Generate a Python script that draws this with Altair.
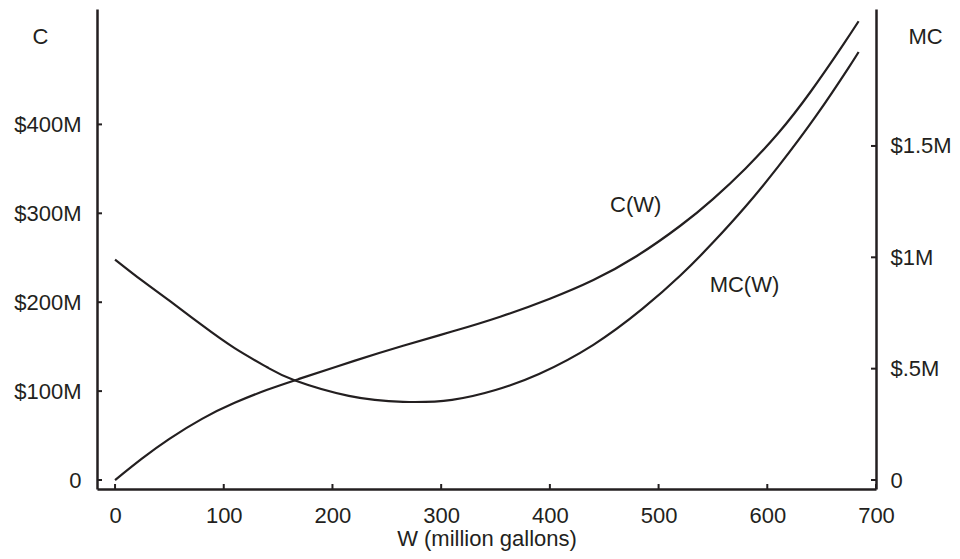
import altair as alt
import pandas as pd

# ---- data ----
W_C = [0, 25, 50, 80, 110, 140, 170, 220, 265, 310, 355, 400, 440, 480, 520, 550, 580, 610, 640, 670, 684]
C_VALS = [0, 24.3, 46.3, 68.8, 86.8, 101.5, 114, 134, 151, 167, 184, 204, 225, 252, 286, 316, 350.5, 390, 437, 490, 516]

W_MC = [0, 25, 50, 80, 110, 140, 165, 215, 265, 310, 350, 390, 440, 485, 520, 550, 580, 610, 645, 675, 684]
MC_VALS = [0.99, 0.895, 0.805, 0.695, 0.592, 0.506, 0.448, 0.378, 0.351, 0.360, 0.404, 0.476, 0.607, 0.768,
           0.918, 1.066, 1.228, 1.407, 1.636, 1.853, 1.922]

W_TICKS = [0, 100, 200, 300, 400, 500, 600, 700]
C_TICKS = [0, 100, 200, 300, 400]
MC_TICKS = [0, 0.5, 1, 1.5]

C_LABEL = {"W": [479], "C": [302], "t": ["C(W)"]}
MC_LABEL = {"W": [579], "MC": [0.845], "t": ["MC(W)"]}

INK = "#231f20"
FONT = "Liberation Sans"
PW, PH = 779, 480

c_df = pd.DataFrame({"W": W_C, "C": C_VALS})
mc_df = pd.DataFrame({"W": W_MC, "MC": MC_VALS})

xscale = alt.Scale(domain=[-16.6, 700], nice=False, zero=False)
cscale = alt.Scale(domain=[-10.1, 529.8], nice=False, zero=False)
mcscale = alt.Scale(domain=[-0.0404, 2.115], nice=False, zero=False)

x_axis = alt.Axis(values=W_TICKS, title="W (million gallons)", ticks=False, tickSize=0,
                  labelPadding=16, grid=False, domainColor=INK, domainWidth=2.5,
                  titleBaseline="alphabetic", titleY=56, labelFlush=False)
c_axis = alt.Axis(orient="left", values=C_TICKS, title="C", ticks=False, tickSize=0,
                  labelPadding=16, grid=False, domainColor=INK, domainWidth=2.5,
                  labelExpr="datum.value == 0 ? '0' : '$' + datum.value + 'M'",
                  titleAngle=0, titleX=-57, titleY=34, titleAlign="center",
                  titleBaseline="alphabetic")
mc_axis = alt.Axis(orient="right", values=MC_TICKS, title="MC", ticks=False, tickSize=0,
                   labelPadding=14, grid=False, domainColor=INK, domainWidth=2.5,
                   labelExpr="datum.value == 0 ? '0' : (datum.value == 0.5 ? '$.5M' : '$' + datum.value + 'M')",
                   titleAngle=0, titleX=49, titleY=34, titleAlign="center",
                   titleBaseline="alphabetic")

X = alt.X("W:Q", scale=xscale, axis=x_axis)
YC = alt.Y("C:Q", scale=cscale, axis=c_axis)
YMC = alt.Y("MC:Q", scale=mcscale, axis=mc_axis)

c_line = alt.Chart(c_df).mark_line(color=INK, strokeWidth=2.2, interpolate="natural").encode(x=X, y=YC)
c_ticks = alt.Chart(pd.DataFrame({"C": C_TICKS})).mark_rule(color=INK, strokeWidth=2).encode(
    y=YC, x=alt.value(0), x2=alt.value(5),
)
c_text = alt.Chart(pd.DataFrame(C_LABEL)).mark_text(
    font=FONT, fontSize=22, color=INK, align="center", baseline="alphabetic").encode(
    x=X, y=YC, text="t:N",
)
left = alt.layer(c_line, c_ticks, c_text)

mc_line = alt.Chart(mc_df).mark_line(color=INK, strokeWidth=2.2, interpolate="natural").encode(x=X, y=YMC)
mc_ticks = alt.Chart(pd.DataFrame({"MC": MC_TICKS})).mark_rule(color=INK, strokeWidth=2).encode(
    y=YMC, x=alt.value(PW - 5), x2=alt.value(PW),
)
mc_text = alt.Chart(pd.DataFrame(MC_LABEL)).mark_text(
    font=FONT, fontSize=22, color=INK, align="center", baseline="alphabetic").encode(
    x=X, y=YMC, text="t:N",
)
right = alt.layer(mc_line, mc_ticks, mc_text)

w_ticks = alt.Chart(pd.DataFrame({"W": W_TICKS})).mark_rule(color=INK, strokeWidth=2).encode(
    x=X, y=alt.value(PH - 5), y2=alt.value(PH),
)

chart = alt.layer(left, right, w_ticks).resolve_scale(y="independent").properties(
    width=PW, height=PH,
    background="white",
    autosize=alt.AutoSizeParams(type="none"),
    padding={"left": 89, "top": 1, "right": 76, "bottom": 62},
).configure_view(strokeWidth=0).configure_axis(
    labelFont=FONT, labelFontSize=22, labelColor=INK,
    titleFont=FONT, titleFontSize=22, titleColor=INK, titleFontWeight="normal",
)

chart.save("out.html", embed_options={"renderer": "svg", "actions": False})
